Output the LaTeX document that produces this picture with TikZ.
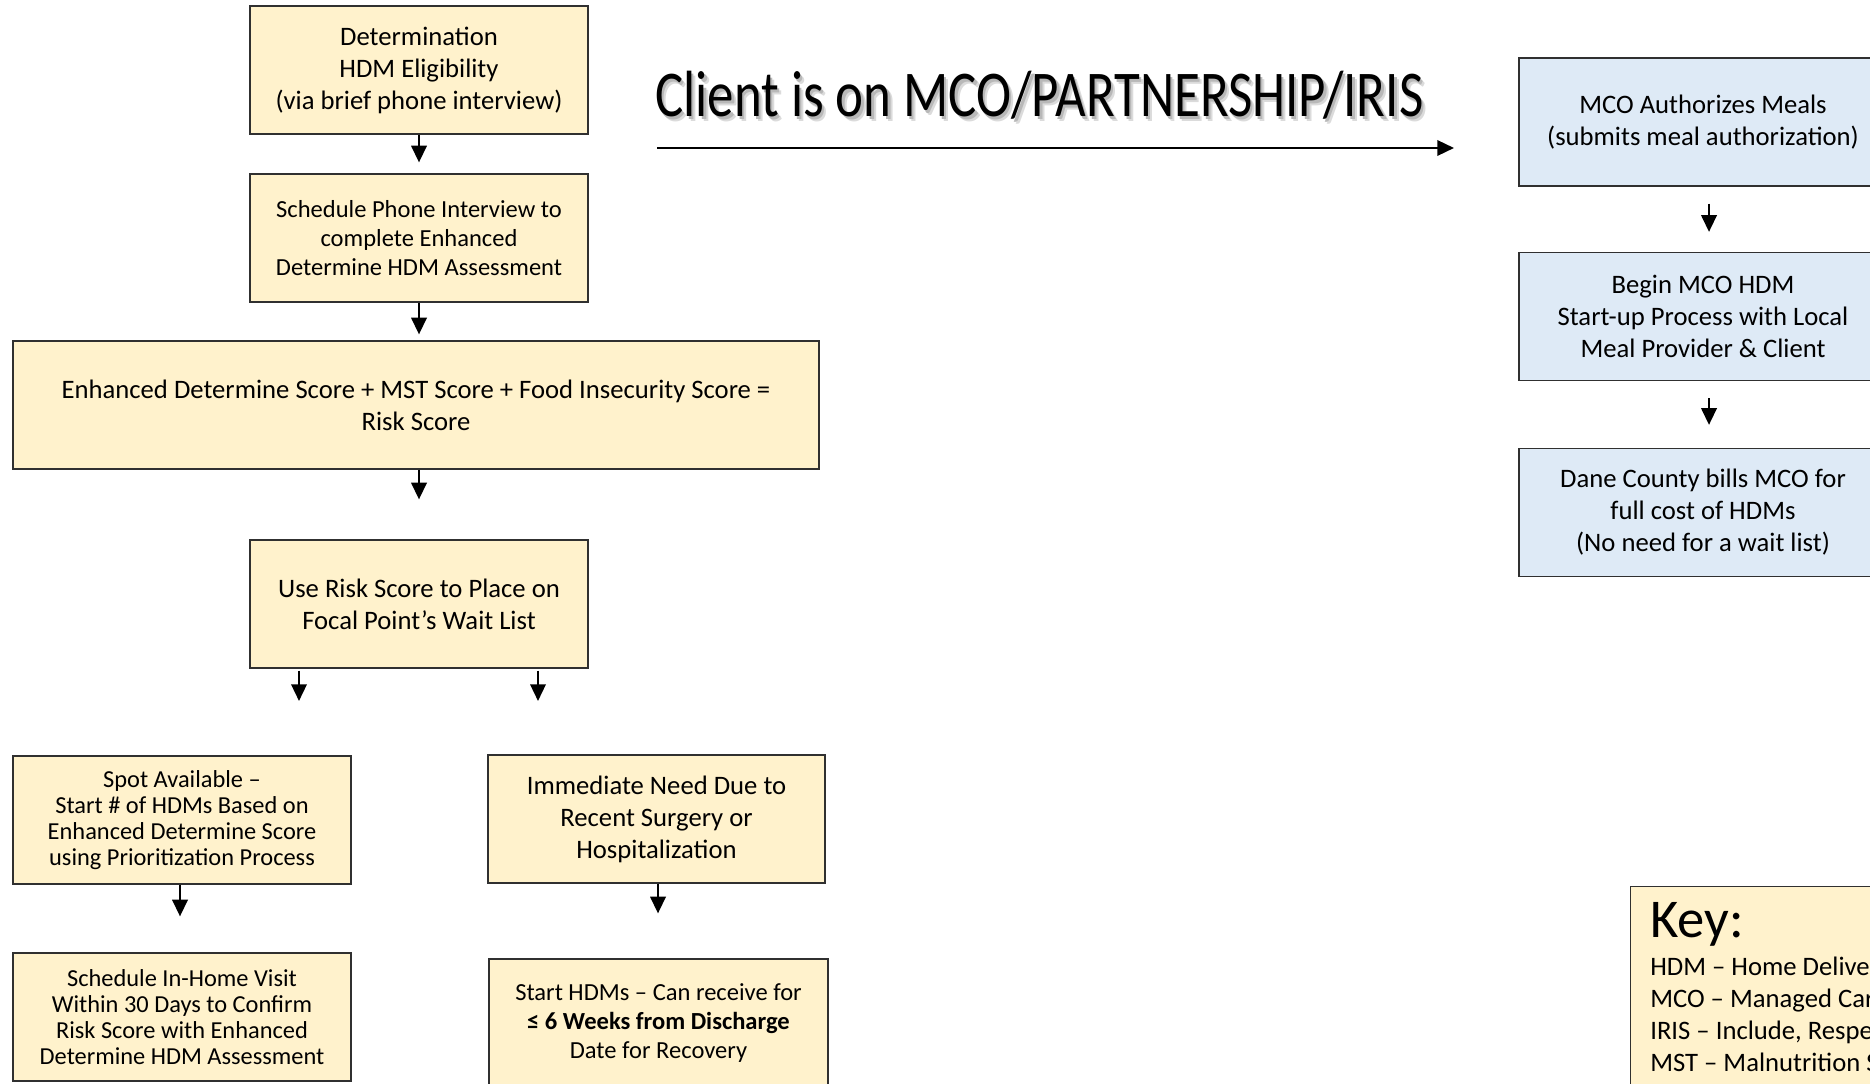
\documentclass[tikz,border=0pt]{standalone}
\usepackage{fontspec}
\setmainfont{Carlito}
\usetikzlibrary{arrows.meta,calc}
\definecolor{yel}{HTML}{FFF2CC}
\definecolor{blu}{HTML}{DEEAF6}
\definecolor{edge}{HTML}{303030}
\begin{document}
\begin{tikzpicture}[x=0.75pt,y=-0.75pt,
  box/.style={draw=edge,line width=0.9pt,align=center,inner sep=0pt,minimum height=96pt},
  ybox/.style={box,fill=yel},
  bbox/.style={box,fill=blu},
  arr/.style={line width=1.8pt,-{Triangle[length=12.5pt,width=11.5pt]}},
  fbig/.style={font=\fontsize{20}{24}\selectfont},
  fmid/.style={font=\fontsize{18.4}{21.75}\selectfont},
  ftight/.style={font=\fontsize{18.3}{19.4}\selectfont},
  keyline/.style={anchor=base west,inner sep=0pt,font=\fontsize{20}{24}\selectfont}
]
\useasboundingbox (0,0) rectangle (1870,1084);
\clip (0,0) rectangle (1870,1084);

% left column
\node[ybox,fbig,minimum width=253.5pt] (b1) at (419,70) {Determination\\HDM Eligibility\\(via brief phone interview)};
\node[ybox,fmid,minimum width=253.5pt] (b2) at (419,238) {Schedule Phone Interview to\\complete Enhanced\\Determine HDM Assessment};
\node[ybox,fbig,minimum width=604.5pt] (b3) at (416,405) {Enhanced Determine Score + MST Score + Food Insecurity Score =\\Risk Score};
\node[ybox,fbig,minimum width=253.5pt] (b4) at (419,604) {Use Risk Score to Place on\\Focal Point’s Wait List};
\node[ybox,ftight,minimum width=253.5pt] (b5) at (182,820) {Spot Available –\\Start \# of HDMs Based on\\Enhanced Determine Score\\using Prioritization Process};
\node[ybox,fbig,minimum width=252.75pt] (b6) at (656.5,819) {Immediate Need Due to\\Recent Surgery or\\Hospitalization};
\node[ybox,ftight,minimum width=253.5pt] (b7) at (182,1017) {Schedule In-Home Visit\\Within 30 Days to Confirm\\Risk Score with Enhanced\\Determine HDM Assessment};
\node[ybox,fmid,minimum width=254.25pt] (b8) at (658.5,1023) {Start HDMs – Can receive for\\\textbf{≤ 6 Weeks from Discharge}\\Date for Recovery};

\coordinate (xc) at (419,0);
\draw[arr,shorten >=8.25pt] (b1.south) -- (b2.north);
\draw[arr,shorten >=4.5pt] (b2.south) -- (b3.north -| xc);
\draw[arr,shorten >=30pt] (b3.south -| xc) -- (b4.north);
\coordinate (a4a) at (299,701);
\coordinate (a4b) at (538,701);
\draw[arr,shorten <=1.5pt] (b4.south -| a4a) -- (a4a);
\draw[arr,shorten <=1.5pt] (b4.south -| a4b) -- (a4b);
\coordinate (x5) at (180,0);
\draw[arr,shorten >=27pt] (b5.south -| x5) -- (b7.north -| x5);
\coordinate (x6) at (658,0);
\draw[arr,shorten >=33.75pt] (b6.south -| x6) -- (b8.north -| x6);

% title with soft shadow
\node[anchor=base west,inner sep=0pt,text=black!14] (tsh2) at (659.5,121.5) {\scalebox{0.81}[1]{\fontsize{49}{55}\selectfont Client is on MCO/PARTNERSHIP/IRIS}};
\node[anchor=base west,inner sep=0pt,text=black!28] (tsh) at (657.5,119.5) {\scalebox{0.81}[1]{\fontsize{49}{55}\selectfont Client is on MCO/PARTNERSHIP/IRIS}};
\node[anchor=base west,inner sep=0pt] (title) at (655,117) {\scalebox{0.81}[1]{\fontsize{49}{55}\selectfont Client is on MCO/PARTNERSHIP/IRIS}};
\coordinate (la1) at (657,148);
\coordinate (la2) at (1454,148);
\draw[arr] (la1) -- (la2);

% right column
\node[bbox,fbig,minimum width=276pt] (m1) at (1703,122) {MCO Authorizes Meals\\(submits meal authorization)};
\node[bbox,fbig,minimum width=276pt] (m2) at (1703,316.5) {Begin MCO HDM\\Start-up Process with Local\\Meal Provider \& Client};
\node[bbox,fbig,minimum width=276pt] (m3) at (1703,512.5) {Dane County bills MCO for\\full cost of HDMs\\(No need for a wait list)};
\coordinate (bx) at (1709,0);
\draw[arr,shorten <=12.75pt,shorten >=15pt] (m1.south -| bx) -- (m2.north -| bx);
\draw[arr,shorten <=12.75pt,shorten >=17.25pt] (m2.south -| bx) -- (m3.north -| bx);

% key
\node[draw=edge,fill=yel,line width=0.9pt,anchor=north west,minimum width=210pt,minimum height=170pt,inner sep=0pt] (key) at (1630,886) {};
\node[anchor=base west,inner sep=0pt,font=\fontsize{41}{45}\selectfont] (keyt) at (1650,937) {Key:};
\node[keyline] (k1) at (1650,975) {HDM – Home Delivered Meals};
\node[keyline] (k2) at (1650,1007) {MCO – Managed Care Organization};
\node[keyline] (k3) at (1650,1039) {IRIS – Include, Respect, I Self-Direct};
\node[keyline] (k4) at (1650,1071) {MST – Malnutrition Screening Tool};
\end{tikzpicture}
\end{document}
